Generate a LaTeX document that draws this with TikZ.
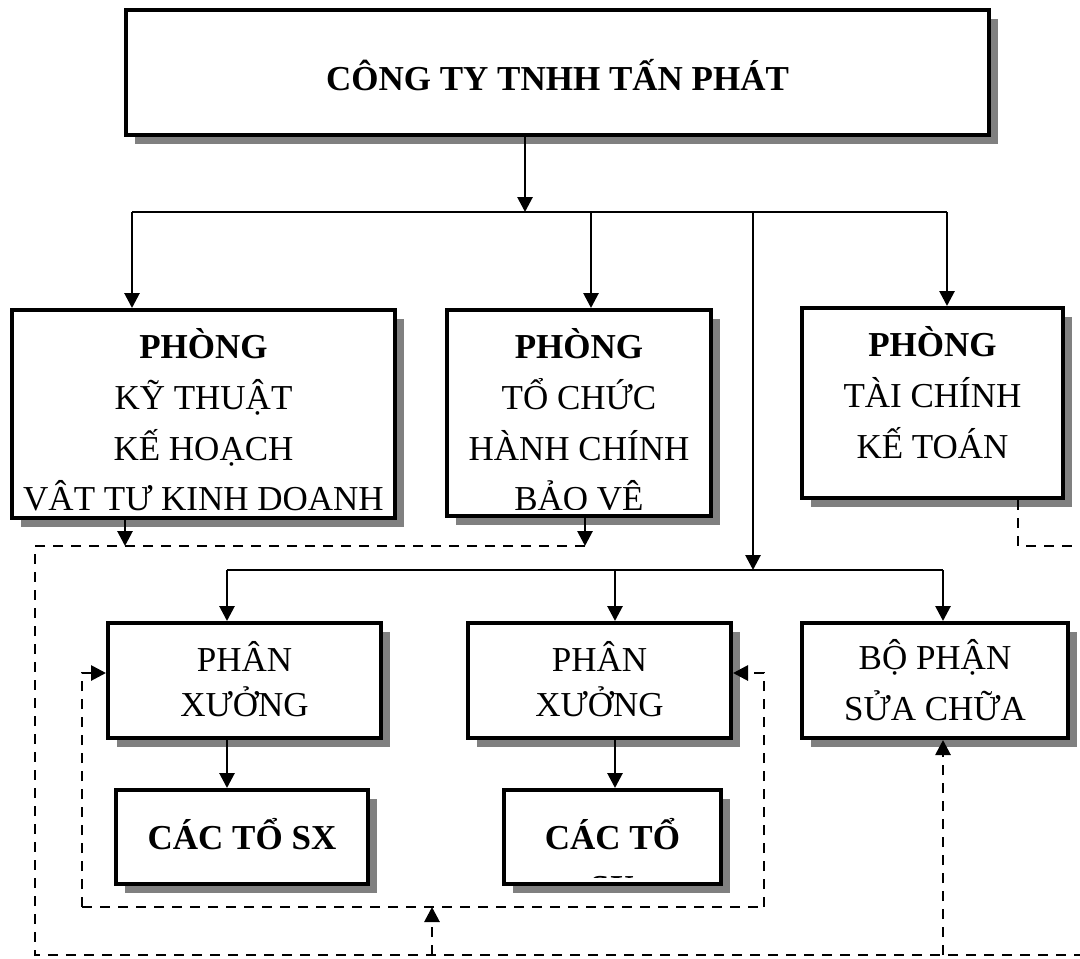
\documentclass[tikz,border=0pt]{standalone}
\usepackage{fontspec}
\setmainfont{Liberation Serif}
\usetikzlibrary{arrows.meta,shadows}

\tikzset{
  hop/.style={draw, line width=2pt, fill=white, inner sep=0pt,
    drop shadow={shadow xshift=4.5pt, shadow yshift=-4.5pt, fill=black!50, opacity=1}},
  chu/.style={align=center, inner sep=0pt, font=\fontsize{17.5}{25.4}\selectfont},
  % text of a box, clipped a little above its lower border
  chuhop/.style n args={3}{path picture={
    \clip ([yshift=3.5pt]path picture bounding box.south west) rectangle (path picture bounding box.north east);
    \node[chu, yshift=#2] (#1) at (path picture bounding box.center) {#3};}},
  net/.style={line width=1.4pt},
  dut/.style={line width=1.4pt, dash pattern=on 5pt off 4pt},
  mui/.style={-{Triangle[width=7.5pt,length=7.5pt]}}
}

\begin{document}
\begin{tikzpicture}[x=0.5pt,y=-0.5pt]
	\useasboundingbox (0,0) rectangle (1080,958);
	%% boxes placed by hand
	\node[hop, minimum width=431.5pt, minimum height=62.5pt,
		chuhop={cty-t}{-1.5pt}{\textbf{CÔNG TY TNHH TẤN PHÁT}}] (cty) at (557.5,72.5) {};
	\node[hop, minimum width=191.5pt, minimum height=104pt,
		chuhop={kt-t}{-4.25pt}{\textbf{PHÒNG}\\KỸ THUẬT\\KẾ HOẠCH\\VẬT TƯ KINH DOANH}] (kt) at (203.5,414) {};
	\node[hop, minimum width=132pt, minimum height=103pt,
		chuhop={tc-t}{-4.75pt}{\textbf{PHÒNG}\\TỔ CHỨC\\HÀNH CHÍNH\\BẢO VỆ}] (tc) at (579,413) {};
	\node[hop, minimum width=130.5pt, minimum height=95pt,
		chuhop={tckt-t}{5.25pt}{\textbf{PHÒNG}\\TÀI CHÍNH\\KẾ TOÁN}] (tckt) at (932.5,403) {};
	\node[hop, minimum width=136.5pt, minimum height=57.5pt,
		chuhop={px1-t}{0.5pt}{PHÂN\\[-2.9pt]XƯỞNG}] (px1) at (244.5,680.5) {};
	\node[hop, minimum width=131.5pt, minimum height=57.5pt,
		chuhop={px2-t}{0.5pt}{PHÂN\\[-2.9pt]XƯỞNG}] (px2) at (599.5,680.5) {};
	\node[hop, minimum width=133pt, minimum height=57.5pt,
		chuhop={bpsc-t}{0pt}{BỘ PHẬN\\SỬA CHỮA}] (bpsc) at (935,680.5) {};
	\node[hop, minimum width=126pt, minimum height=47pt,
		chuhop={sx1-t}{1.25pt}{\textbf{CÁC TỔ SX}}] (sx1) at (242,837) {};
	\node[hop, minimum width=108.5pt, minimum height=47pt,
		chuhop={sx2-t}{-11pt}{\textbf{CÁC TỔ}\\\textbf{SX}}] (sx2) at (612.5,837) {};

	%% solid lines: first bus
	\coordinate (b1) at (525,212);
	\coordinate (b1l) at (132,212); \coordinate (b1m) at (591,212);
	\coordinate (b1x) at (753,212); \coordinate (b1r) at (947,212);
	\draw[net,mui] (cty.south -| b1) -- (b1);
	\draw[net] (b1l) -- (b1r);
	\foreach \c/\n in {b1l/kt, b1m/tc, b1r/tckt}
		\draw[net,mui] (\c) -- (\c |- \n.north);
	%% second bus
	\coordinate (b2) at (753,570);
	\coordinate (b2l) at (227,570); \coordinate (b2m) at (615,570); \coordinate (b2r) at (943,570);
	\draw[net,mui] (b1x) -- (b2);
	\draw[net] (b2l) -- (b2r);
	\foreach \c/\n in {b2l/px1, b2m/px2, b2r/bpsc}
		\draw[net,mui] (\c) -- (\c |- \n.north);
	\draw[net,mui] (b2l |- px1.south) -- (b2l |- sx1.north);
	\draw[net,mui] (b2m |- px2.south) -- (b2m |- sx2.north);

	%% dashed lines
	\coordinate (d1) at (125,546); \coordinate (d2) at (585,546); \coordinate (dl) at (35,546);
	\coordinate (d3) at (1018,546); \coordinate (d4) at (1080,546);
	\coordinate (g0) at (432,955); \coordinate (g1) at (35,955);
	\coordinate (g2) at (1080,955); \coordinate (g3) at (943,955);
	\draw[net,mui] (kt.south -| d1) -- (d1);
	\draw[net,mui] (tc.south -| d2) -- (d2);
	\draw[dut] (d2) -- (dl) -- (g1) -- (g2);
	\draw[dut] (tckt.south -| d3) -- (d3) -- (d4);
	\draw[dut,mui] (g3) -- (g3 |- bpsc.south);
	%% inner loop back to the workshops
	\coordinate (v0) at (432,907); \coordinate (v1) at (82,907); \coordinate (v2) at (764,907);
	\coordinate (v3) at (82,673); \coordinate (v4) at (764,673);
	\draw[dut,mui] (g0) -- (v0);
	\draw[dut] (v1) -- (v2);
	\draw[dut,mui] (v1) -- (v3) -- (v3 -| px1.west);
	\draw[dut,mui] (v2) -- (v4) -- (v4 -| px2.east);
\end{tikzpicture}
\end{document}
